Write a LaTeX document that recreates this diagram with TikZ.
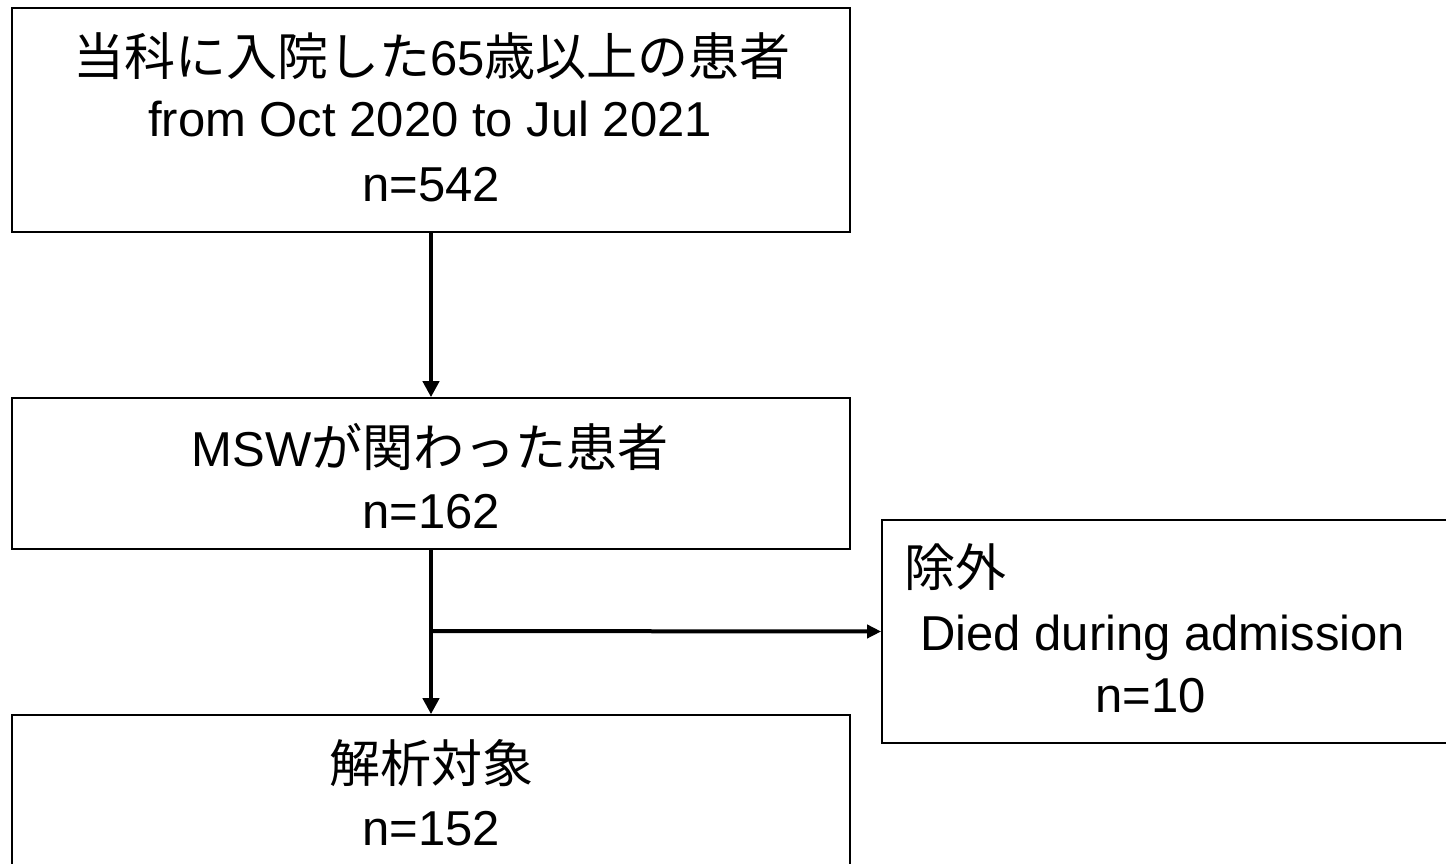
\documentclass[tikz,border=0pt]{standalone}
\usepackage{fontspec}
\setmainfont{Liberation Sans}
\newfontfamily\jp{Noto Sans CJK JP}
\usetikzlibrary{arrows.meta}
\tikzset{
  box/.style={draw=black, line width=1.6pt},
  txt/.style={anchor=base, inner sep=0pt, font=\fontsize{49}{58}\selectfont},
  jtxt/.style={anchor=base, inner sep=0pt, font=\fontsize{51}{60}\selectfont\jp},
  flow/.style={line width=4pt, -{Triangle[width=16pt,length=16pt]}},
  side/.style={line width=4pt, -{Triangle[width=13pt,length=14pt]}}
}
\begin{document}
\begin{tikzpicture}[x=1pt,y=-1pt]
\clip (0,0) rectangle (1446,864);
\fill[white] (0,0) rectangle (1446,864);
% boxes
\node[box, minimum width=838pt, minimum height=224pt, inner sep=0pt] (b1) at (431,120) {};
\node[box, minimum width=838pt, minimum height=151pt, inner sep=0pt] (b2) at (431,473.5) {};
\node[box, minimum width=838pt, minimum height=170pt, inner sep=0pt] (b3) at (431,800) {};
\node[box, minimum width=600pt, minimum height=223pt, inner sep=0pt] (b4) at (1182,631.5) {};
% texts
\node[jtxt] (t11) at (432,76) {当科に入院した{\fontsize{49}{58}\selectfont\rmfamily 65}歳以上の患者};
\node[txt] (t12) at (430,137) {from Oct 2020 to Jul 2021};
\node[txt] (t13) at (431,201) {n=542};
\node[jtxt] (t21) at (430,466) {{\fontsize{49}{58}\selectfont\rmfamily MSW}が関わった患者};
\node[txt] (t22) at (431,528) {n=162};
\node[jtxt] (t31) at (431,782) {解析対象};
\node[txt] (t32) at (431,845) {n=152};
\node[jtxt, anchor=base west] (t41) at (904,586) {除外};
\node[txt, anchor=base west] (t42) at (920,650) {Died during admission};
\node[txt, anchor=base west] (t43) at (1095,712) {n=10};
% connectors
\draw[flow] (b1.south) -- (b2.north);
\draw[flow] (b2.south) -- (b3.north);
\coordinate (j) at (431,631);
\draw[side] (j) -- (b4.west);
\end{tikzpicture}
\end{document}
